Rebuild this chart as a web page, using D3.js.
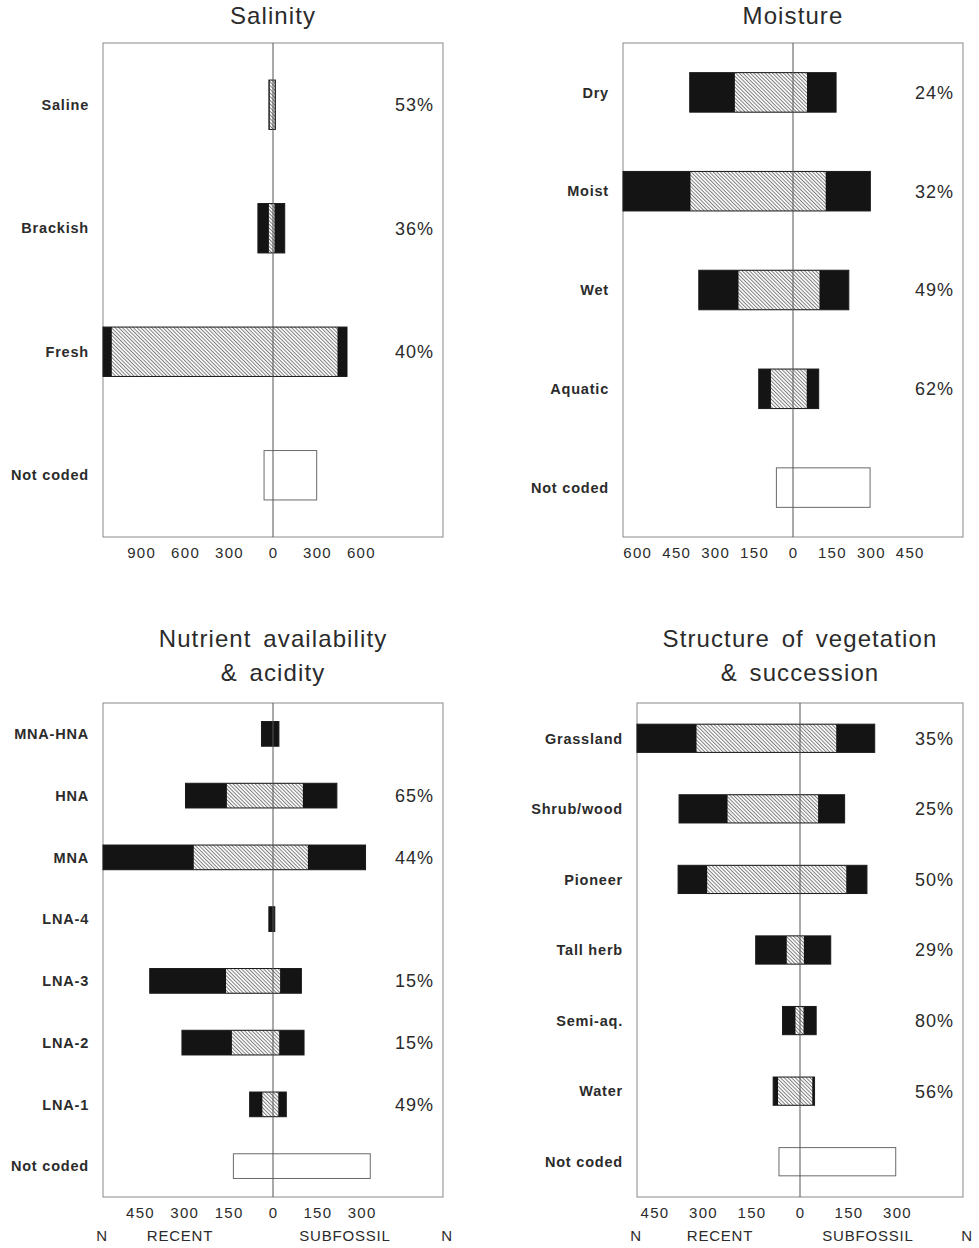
<!DOCTYPE html>
<html>
<head>
<meta charset="utf-8">
<script src="https://cdn.jsdelivr.net/npm/d3@7"></script>
<style>
  html, body { margin: 0; padding: 0; background: #fff; }
  svg { display: block; }
  text { font-family: "Liberation Sans", Arial, Helvetica, sans-serif; fill: #2b2b2b; }
</style>
</head>
<body>
<svg id="chart" width="979" height="1248"></svg>
<script>
// Species counts per habitat class: recent fauna (left) vs subfossil fauna (right).
// "Shared" = part of each total made up of species present in both faunas.

// --- Salinity ---
const salinityCategories   = ["Saline", "Brackish", "Fresh", "Not coded"];
const salinityRecent       = [28, 103, 1160, 61];
const salinityRecentShared = [23, 28, 1100, null];
const salinitySubShared    = [12, 10, 440, null];
const salinitySubfossil    = [16, 80, 505, 298];
const salinityPct          = ["53%", "36%", "40%", ""];
const salinityTicks        = [-900, -600, -300, 0, 300, 600];

// --- Moisture ---
const moistureCategories   = ["Dry", "Moist", "Wet", "Aquatic", "Not coded"];
const moistureRecent       = [398, 655, 363, 132, 64];
const moistureRecentShared = [224, 395, 210, 85, null];
const moistureSubShared    = [54, 126, 102, 53, null];
const moistureSubfossil    = [166, 298, 215, 99, 297];
const moisturePct          = ["24%", "32%", "49%", "62%", ""];
const moistureTicks        = [-600, -450, -300, -150, 0, 150, 300, 450];

// --- Nutrient availability & acidity ---
const nutrientCategories   = ["MNA-HNA", "HNA", "MNA", "LNA-4", "LNA-3", "LNA-2", "LNA-1", "Not coded"];
const nutrientRecent       = [39, 296, 575, 14, 417, 308, 79, 134];
const nutrientRecentShared = [0, 156, 268, 0, 159, 139, 36, null];
const nutrientSubShared    = [0, 101, 118, 0, 24, 21, 18, null];
const nutrientSubfossil    = [20, 216, 313, 6, 96, 105, 45, 329];
const nutrientPct          = ["", "65%", "44%", "", "15%", "15%", "49%", ""];
const nutrientTicks        = [-450, -300, -150, 0, 150, 300];

// --- Structure of vegetation & succession ---
const structureCategories   = ["Grassland", "Shrub/wood", "Pioneer", "Tall herb", "Semi-aq.", "Water", "Not coded"];
const structureRecent       = [504, 374, 377, 137, 54, 83, 65];
const structureRecentShared = [320, 224, 287, 41, 14, 68, null];
const structureSubShared    = [112, 56, 143, 12, 11, 38, null];
const structureSubfossil    = [231, 138, 207, 95, 50, 45, 296];
const structurePct          = ["35%", "25%", "50%", "29%", "80%", "56%", ""];
const structureTicks        = [-450, -300, -150, 0, 150, 300];

const svg = d3.select("#chart");

// diagonal hatching for the shared portion of each bar
const defs = svg.append("defs");
defs.append("pattern")
  .attr("id", "hatch")
  .attr("patternUnits", "userSpaceOnUse")
  .attr("width", 2.6).attr("height", 2.6)
  .attr("patternTransform", "rotate(-45)")
  .call(p => {
    p.append("rect").attr("width", 2.6).attr("height", 2.6).attr("fill", "#fbfbfb");
    p.append("line").attr("x1", 0.5).attr("y1", 0).attr("x2", 0.5).attr("y2", 2.6)
      .attr("stroke", "#5c5c5c").attr("stroke-width", 0.75);
  });

function drawPanel(cfg) {
  const { categories, recent, recentShared, subShared, subfossil, pct, ticks } = cfg;
  const { left, right, top, bottom, labelX, title, titleY, nLabels } = cfg.layout;
  const rows = categories.map((c, i) => ({
    cat: c, recent: recent[i], rShared: recentShared[i],
    sShared: subShared[i], sub: subfossil[i], pct: pct[i]
  }));

  const maxN = d3.max(recent);
  const x = d3.scaleLinear().domain([-maxN, maxN]).range([left, right]);
  const y = d3.scaleBand().domain(categories).range([top, bottom])
    .paddingInner(0.6).paddingOuter(0.3);

  const g = svg.append("g");

  // title (one or two lines)
  const cx = x(0);
  title.forEach((line, i) => {
    g.append("text")
      .attr("x", cx).attr("y", titleY[i])
      .attr("text-anchor", "middle")
      .attr("font-size", 24).attr("letter-spacing", 1.1).attr("word-spacing", 4)
      .text(line);
  });

  // frame
  g.append("rect")
    .attr("x", left).attr("y", top)
    .attr("width", right - left).attr("height", bottom - top)
    .attr("fill", "none").attr("stroke", "#8a8a8a").attr("stroke-width", 1);

  const bars = g.selectAll("g.bar").data(rows).join("g").attr("class", "bar");

  // coded classes: black totals, hatched shared part
  const coded = bars.filter(d => d.rShared !== null);
  coded.append("rect")
    .attr("x", d => x(-d.recent)).attr("y", d => y(d.cat))
    .attr("width", d => x(d.sub) - x(-d.recent)).attr("height", y.bandwidth())
    .attr("fill", "#141414");
  coded.filter(d => d.rShared + d.sShared > 0).append("rect")
    .attr("x", d => x(-d.rShared)).attr("y", d => y(d.cat))
    .attr("width", d => x(d.sShared) - x(-d.rShared)).attr("height", y.bandwidth())
    .attr("fill", "url(#hatch)");
  coded.append("rect")
    .attr("x", d => x(-d.recent)).attr("y", d => y(d.cat))
    .attr("width", d => x(d.sub) - x(-d.recent)).attr("height", y.bandwidth())
    .attr("fill", "none").attr("stroke", "#1a1a1a").attr("stroke-width", 1);

  // not-coded class: open box
  bars.filter(d => d.rShared === null).append("rect")
    .attr("x", d => x(-d.recent)).attr("y", d => y(d.cat))
    .attr("width", d => x(d.sub) - x(-d.recent)).attr("height", y.bandwidth())
    .attr("fill", "none").attr("stroke", "#6a6a6a").attr("stroke-width", 1);

  // zero line
  g.append("line")
    .attr("x1", x(0)).attr("x2", x(0)).attr("y1", top).attr("y2", bottom)
    .attr("stroke", "#555").attr("stroke-width", 1);

  // category labels
  bars.append("text")
    .attr("x", labelX).attr("y", d => y(d.cat) + y.bandwidth() / 2)
    .attr("dy", "0.36em").attr("text-anchor", "end")
    .attr("font-size", 14.5).attr("font-weight", "bold").attr("letter-spacing", 0.8)
    .attr("fill", "#333")
    .text(d => d.cat);

  // percentage of shared species
  bars.filter(d => d.pct).append("text")
    .attr("x", right - 9).attr("y", d => y(d.cat) + y.bandwidth() / 2)
    .attr("dy", "0.36em").attr("text-anchor", "end")
    .attr("font-size", 18).attr("letter-spacing", 1)
    .text(d => d.pct);

  // axis: absolute counts on both sides of zero
  const axis = g.append("g").attr("transform", `translate(0,${bottom})`)
    .call(d3.axisBottom(x).tickValues(ticks).tickFormat(d => Math.abs(d))
      .tickSize(0).tickPadding(10));
  axis.select(".domain").remove();
  axis.selectAll("text")
    .attr("font-family", "Liberation Sans, Arial, sans-serif")
    .attr("font-size", 15).attr("letter-spacing", 1.3).attr("fill", "#2b2b2b");

  if (nLabels) {
    const ly = bottom + 44;
    const lab = [
      { t: "N", x: left - 1 },
      { t: "RECENT", x: left + nLabels.recent },
      { t: "SUBFOSSIL", x: right - nLabels.subfossil },
      { t: "N", x: right + 4 }
    ];
    g.selectAll("text.nlab").data(lab).join("text").attr("class", "nlab")
      .attr("x", d => d.x).attr("y", ly).attr("text-anchor", "middle")
      .attr("font-size", 15).attr("letter-spacing", 0.8)
      .text(d => d.t);
  }
}

drawPanel({
  categories: salinityCategories, recent: salinityRecent, recentShared: salinityRecentShared,
  subShared: salinitySubShared, subfossil: salinitySubfossil, pct: salinityPct, ticks: salinityTicks,
  layout: { left: 103, right: 443, top: 43, bottom: 537, labelX: 89,
            title: ["Salinity"], titleY: [24] }
});

drawPanel({
  categories: moistureCategories, recent: moistureRecent, recentShared: moistureRecentShared,
  subShared: moistureSubShared, subfossil: moistureSubfossil, pct: moisturePct, ticks: moistureTicks,
  layout: { left: 623, right: 963, top: 43, bottom: 537, labelX: 609,
            title: ["Moisture"], titleY: [24] }
});

drawPanel({
  categories: nutrientCategories, recent: nutrientRecent, recentShared: nutrientRecentShared,
  subShared: nutrientSubShared, subfossil: nutrientSubfossil, pct: nutrientPct, ticks: nutrientTicks,
  layout: { left: 103, right: 443, top: 703, bottom: 1197, labelX: 89,
            title: ["Nutrient availability", "& acidity"], titleY: [647, 681],
            nLabels: { recent: 77, subfossil: 98 } }
});

drawPanel({
  categories: structureCategories, recent: structureRecent, recentShared: structureRecentShared,
  subShared: structureSubShared, subfossil: structureSubfossil, pct: structurePct, ticks: structureTicks,
  layout: { left: 637, right: 963, top: 703, bottom: 1197, labelX: 623,
            title: ["Structure of vegetation", "& succession"], titleY: [647, 681],
            nLabels: { recent: 83, subfossil: 95 } }
});
</script>
</body>
</html>
